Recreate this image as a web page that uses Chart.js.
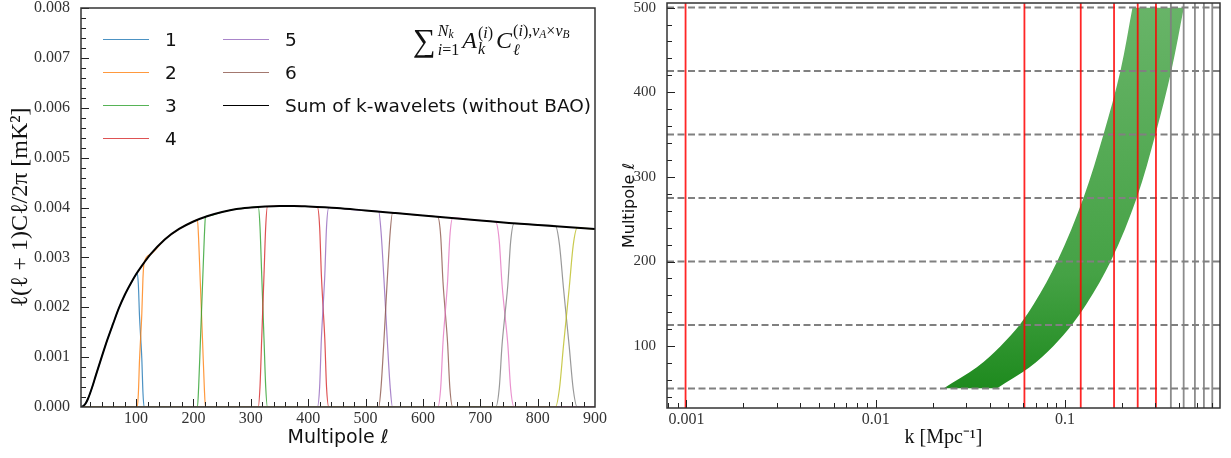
<!DOCTYPE html>
<html>
<head>
<meta charset="utf-8">
<script src="https://cdn.jsdelivr.net/npm/chart.js@4.4.1/dist/chart.umd.min.js"></script>
<style>
  body { margin: 0; background: #fff; }
  #wrap { position: relative; width: 1231px; height: 458px; overflow: hidden; }
  .panel { position: absolute; top: 0; height: 458px; }
  #leftPanel { left: 0; width: 615px; }
  #rightPanel { left: 615px; width: 616px; }
  #legend {
    position: absolute; left: 103px; top: 23px;
    display: grid; grid-auto-flow: column;
    grid-template-rows: repeat(4, 33px); grid-template-columns: 120px auto;
    font: 18.5px "DejaVu Sans", sans-serif; color: #111;
  }
  .item { display: flex; align-items: center; white-space: nowrap; }
  .swatch { width: 46px; height: 0; border-top: 1.6px solid; margin-right: 16px; }
  #mathLabel {
    position: absolute; left: 413px; top: 22px;
    display: flex; align-items: center; white-space: nowrap;
    font: 24px "Liberation Serif", serif; color: #111;
  }
  #mathLabel .big { font-size: 32px; margin-right: 1px; }
  #mathLabel .stk { display: inline-flex; flex-direction: column; font-size: 16px; line-height: 16px; margin: 0 3px 0 1px; }
  #mathLabel sub { font-size: 11.5px; vertical-align: -2px; }
</style>
</head>
<body>
<div id="wrap">
  <div class="panel" id="leftPanel"><canvas id="leftChart"></canvas></div>
  <div class="panel" id="rightPanel"><canvas id="rightChart"></canvas></div>
  <div id="legend"></div>
  <div id="mathLabel">
    <span class="big">∑</span><span class="stk"><span><i>N</i><sub><i>k</i></sub></span><span><i>i</i>=1</span></span>
    <i>A</i><span class="stk"><span>(<i>i</i>)</span><span><i>k</i></span></span>
    <i>C</i><span class="stk"><span>(<i>i</i>),<i>ν</i><sub><i>A</i></sub>×<i>ν</i><sub><i>B</i></sub></span><span><i>ℓ</i></span></span>
  </div>
</div>
<script>
// ---- left panel: k-wavelet decomposition of the angular power spectrum ----
const sumL = [4, 8, 12, 16, 20, 25, 30, 40, 50, 60, 70, 80, 90, 100, 110, 125, 150, 175, 200, 225,
              250, 275, 300, 325, 350, 375, 400, 450, 500, 550, 600, 650, 700, 750, 800, 850, 900];
const sumV = [0, 0.00002, 0.00007, 0.00016, 0.00028, 0.00045, 0.00064, 0.00100, 0.00135, 0.00167,
              0.00198, 0.00224, 0.00246, 0.00266, 0.00283, 0.00306, 0.00336, 0.00357, 0.00372, 0.00383,
              0.00391, 0.00397, 0.00400, 0.00402, 0.00403, 0.00403, 0.00402, 0.00399, 0.00394, 0.00389,
              0.00384, 0.00379, 0.00374, 0.00369, 0.00365, 0.00361, 0.00357];

// crossings between neighbouring wavelets
const edgeL = [
  [102, 104, 106, 108, 110, 112, 114],
  [207, 209, 212, 214, 216, 219, 221],
  [313, 316, 319, 321, 323, 326, 329],
  [416, 420, 423, 426, 429, 432, 436],
  [523, 527, 532, 535, 538, 543, 547],
  [626, 631, 635, 639, 643, 647, 652],
  [727, 733, 738, 743, 748, 753, 759],
  [831, 838, 845, 850, 855, 862, 869]
];
const fallV = [
  [0.00269, 0.00245, 0.00182, 0.00140, 0.00097, 0.00029, 0],
  [0.00375, 0.00338, 0.00249, 0.00189, 0.00129, 0.00038, 0],
  [0.00402, 0.00362, 0.00265, 0.00201, 0.00137, 0.00040, 0],
  [0.00401, 0.00361, 0.00265, 0.00200, 0.00136, 0.00040, 0],
  [0.00392, 0.00352, 0.00258, 0.00195, 0.00132, 0.00039, 0],
  [0.00381, 0.00343, 0.00251, 0.00190, 0.00129, 0.00038, 0],
  [0.00371, 0.00334, 0.00245, 0.00185, 0.00126, 0.00037, 0],
  [0.00363, 0.00326, 0.00239, 0.00180, 0.00122, 0.00036, 0]
];
const riseV = [
  [0, 0.00027, 0.00094, 0.00140, 0.00187, 0.00258, 0.00289],
  [0, 0.00038, 0.00128, 0.00189, 0.00250, 0.00342, 0.00381],
  [0, 0.00040, 0.00137, 0.00201, 0.00265, 0.00362, 0.00402],
  [0, 0.00040, 0.00136, 0.00200, 0.00265, 0.00361, 0.00400],
  [0, 0.00039, 0.00132, 0.00195, 0.00257, 0.00351, 0.00389],
  [0, 0.00038, 0.00129, 0.00190, 0.00251, 0.00342, 0.00379],
  [0, 0.00037, 0.00125, 0.00185, 0.00244, 0.00332, 0.00368],
  [0, 0.00036, 0.00122, 0.00180, 0.00238, 0.00324, 0.00359]
];
const waveletLabels = ['1', '2', '3', '4', '5', '6', '7', '8', '9'];
const waveletColors = ['#1f77b4', '#ff7f0e', '#2ca02c', '#d62728', '#9467bd', '#8c564b', '#e377c2', '#7f7f7f', '#bcbd22'];
const leftXTicks = [100, 200, 300, 400, 500, 600, 700, 800, 900];
const leftYTicks = [0, 0.001, 0.002, 0.003, 0.004, 0.005, 0.006, 0.007, 0.008];

// ---- right panel: k <-> multipole mapping ----
const bandL = [50, 75, 100, 125, 150, 200, 275, 350, 425, 500];
const bandKLow = [0.0228, 0.0342, 0.0456, 0.0575, 0.0685, 0.0908, 0.1250, 0.1595, 0.1960, 0.2270];
const bandKHigh = [0.0436, 0.0650, 0.0866, 0.1085, 0.1300, 0.1740, 0.2390, 0.3000, 0.3640, 0.4240];
const kRed = [0.00099, 0.0610, 0.1210, 0.1814, 0.2419, 0.3020];
const kGrey = [0.3620, 0.4230, 0.4850, 0.5410, 0.5990];
const lDashed = [50, 125, 200, 275, 350, 425, 500];
const rightXTicks = [0.001, 0.01, 0.1];
const rightYTicks = [100, 200, 300, 400, 500];

const kMin = 0.00079, kMax = 0.658, lMin = 27, lMax = 505.4;

const serif = '"Liberation Serif", serif';
const sans = '"DejaVu Sans", sans-serif';

// minor tick positions (drawn inward like the major ones)
const leftXMinor = [];
for (let v = 20; v < 900; v += 20) if (v % 100) leftXMinor.push(v);
const leftYMinor = [];
for (let i = 1; i < 40; i++) if (i % 5) leftYMinor.push(i * 0.0002);
const rightYMinor = [];
for (let v = 40; v <= 500; v += 20) if (v % 100) rightYMinor.push(v);
const rightXMinor = [];
[0.0001, 0.001, 0.01, 0.1].forEach(d => { for (let m = 2; m <= 9; m++) rightXMinor.push(m * d); });

const frameTicks = {
  id: 'frameTicks',
  afterDatasetsDraw(chart, args, opts) {
    const { ctx, chartArea: a } = chart;
    const xs = chart.scales.x, ys = chart.scales.y;
    ctx.save();
    ctx.strokeStyle = '#222';
    ctx.lineWidth = 1;
    ctx.beginPath();
    const tick = (v, len, horiz) => {
      if (horiz) {
        const p = Math.round(xs.getPixelForValue(v)) + 0.5;
        if (p < a.left || p > a.right) return;
        ctx.moveTo(p, a.bottom); ctx.lineTo(p, a.bottom - len);
      } else {
        const p = Math.round(ys.getPixelForValue(v)) + 0.5;
        if (p < a.top || p > a.bottom) return;
        ctx.moveTo(a.left, p); ctx.lineTo(a.left + len, p);
      }
    };
    xs.ticks.forEach(t => tick(t.value, 8, true));
    (opts.xMinor || []).forEach(v => tick(v, 5, true));
    ys.ticks.forEach(t => tick(t.value, 8, false));
    (opts.yMinor || []).forEach(v => tick(v, 5, false));
    ctx.stroke();
    ctx.lineWidth = 1.5;
    ctx.strokeStyle = '#333';
    ctx.strokeRect(a.left, a.top, a.right - a.left, a.bottom - a.top);
    ctx.restore();
  }
};

function waveletData(i) {
  const pts = [];
  const last = edgeL.length;
  const lo = i > 0 ? edgeL[i - 1][edgeL[i - 1].length - 1] : -Infinity;
  const hi = i < last ? edgeL[i][0] : Infinity;
  if (i > 0) {
    pts.push({ x: sumL[0], y: 0 });
    edgeL[i - 1].forEach((l, j) => pts.push({ x: l, y: riseV[i - 1][j] }));
  }
  sumL.forEach((l, j) => { if (l > lo && l < hi) pts.push({ x: l, y: sumV[j] }); });
  if (i < last) {
    edgeL[i].forEach((l, j) => pts.push({ x: l, y: fallV[i][j] }));
    pts.push({ x: sumL[sumL.length - 1], y: 0 });
  }
  return pts;
}

const leftDatasets = [{
  label: 'Sum of k-wavelets (without BAO)',
  data: sumL.map((l, i) => ({ x: l, y: sumV[i] })),
  borderColor: '#000', borderWidth: 2, order: 0
}].concat(waveletLabels.map((lab, i) => ({
  label: lab,
  data: waveletData(i),
  borderColor: waveletColors[i] + 'cc',
  borderWidth: 1.2,
  order: 10 - i
})));

new Chart(document.getElementById('leftChart'), {
  type: 'line',
  data: { datasets: leftDatasets },
  options: {
    responsive: true, maintainAspectRatio: false, animation: false,
    layout: { padding: { top: 8, right: 20, left: 0, bottom: 0 } },
    elements: { point: { radius: 0 }, line: { cubicInterpolationMode: 'monotone' } },
    plugins: {
      legend: { display: false }, tooltip: { enabled: false },
      frameTicks: { xMinor: leftXMinor, yMinor: leftYMinor }
    },
    scales: {
      x: {
        type: 'linear', min: 4, max: 900,
        afterBuildTicks: s => { s.ticks = leftXTicks.map(v => ({ value: v })); },
        afterFit: s => { s.height = 51; s.paddingLeft = 0; s.paddingRight = 0; },
        grid: { display: false }, border: { display: false },
        ticks: { font: { family: serif, size: 16, lineHeight: 1 }, color: '#333', padding: -4, maxRotation: 0, autoSkip: false },
        title: { display: true, text: 'Multipole ℓ', font: { family: sans, size: 19 }, color: '#111', padding: { top: 0, bottom: 9 } }
      },
      y: {
        min: 0, max: 0.008,
        afterBuildTicks: s => { s.ticks = leftYTicks.map(v => ({ value: v })); },
        afterFit: s => { s.width = 81; s.paddingTop = 0; s.paddingBottom = 0; },
        grid: { display: false }, border: { display: false },
        ticks: { font: { family: serif, size: 16, lineHeight: 1 }, color: '#333', padding: 3, callback: v => v.toFixed(3) },
        title: {
          display: true, text: 'ℓ(ℓ + 1)Cℓ/2π [mK²]', color: '#111',
          font: { family: serif, size: 24 }, padding: { top: 6, bottom: 0 }
        }
      }
    }
  },
  plugins: [frameTicks]
});

// html legend, two columns like the original
const legendItems = [1, 2, 3, 4, 5, 6, 0].map(i => leftDatasets[i]);
document.getElementById('legend').innerHTML = legendItems.map(d =>
  '<div class="item"><span class="swatch" style="border-color:' + d.borderColor + '"></span>' + d.label + '</div>'
).join('');

function bandFill(ctx) {
  const chart = ctx.chart;
  if (!chart.chartArea) return 'rgba(70,160,70,0.85)';
  const y = chart.scales.y;
  const g = chart.ctx.createLinearGradient(0, y.getPixelForValue(50), 0, y.getPixelForValue(500));
  g.addColorStop(0, '#1e8a1e');
  g.addColorStop(0.3, '#45a245');
  g.addColorStop(1, '#68b468');
  return g;
}

const rightDatasets = [];
kRed.forEach(k => rightDatasets.push({
  data: [{ x: k, y: lMin }, { x: k, y: lMax }], borderColor: 'rgba(255,0,0,0.85)', borderWidth: 1.8, order: 0
}));
kGrey.forEach(k => rightDatasets.push({
  data: [{ x: k, y: lMin }, { x: k, y: lMax }], borderColor: 'rgba(128,128,128,0.9)', borderWidth: 1.8, order: 0
}));
lDashed.forEach(l => rightDatasets.push({
  data: [{ x: kMin, y: l }, { x: kMax, y: l }], borderColor: '#808080', borderWidth: 2, borderDash: [7, 3.5], order: 1
}));
rightDatasets.push({
  data: bandL.map((l, i) => ({ x: bandKLow[i], y: l })), indexAxis: 'y',
  borderColor: 'rgba(0,0,0,0)', borderWidth: 0, fill: false, cubicInterpolationMode: 'monotone', order: 2
});
rightDatasets.push({
  data: bandL.map((l, i) => ({ x: bandKHigh[i], y: l })), indexAxis: 'y',
  borderColor: 'rgba(0,0,0,0)', borderWidth: 0, fill: '-1', backgroundColor: bandFill,
  cubicInterpolationMode: 'monotone', order: 2
});

new Chart(document.getElementById('rightChart'), {
  type: 'line',
  data: { datasets: rightDatasets },
  options: {
    responsive: true, maintainAspectRatio: false, animation: false,
    layout: { padding: { top: 3, right: 11, left: 0, bottom: 0 } },
    elements: { point: { radius: 0 } },
    plugins: {
      legend: { display: false }, tooltip: { enabled: false },
      frameTicks: { xMinor: rightXMinor, yMinor: rightYMinor }
    },
    scales: {
      x: {
        type: 'logarithmic', min: kMin, max: kMax,
        afterBuildTicks: s => { s.ticks = rightXTicks.map(v => ({ value: v })); },
        afterFit: s => { s.height = 50; s.paddingLeft = 0; s.paddingRight = 0; },
        grid: { display: false }, border: { display: false },
        ticks: { font: { family: serif, size: 16, lineHeight: 1 }, color: '#333', padding: -4, maxRotation: 0, autoSkip: false, callback: v => String(v) },
        title: {
          display: true, text: 'k [Mpc⁻¹]', color: '#111',
          font: { family: serif, size: 20 }, padding: { top: 0, bottom: 8 }
        }
      },
      y: {
        type: 'linear', min: lMin, max: lMax,
        afterBuildTicks: s => { s.ticks = rightYTicks.map(v => ({ value: v })); },
        afterFit: s => { s.width = 52; s.paddingTop = 0; s.paddingBottom = 0; },
        grid: { display: false }, border: { display: false },
        ticks: { font: { family: serif, size: 15, lineHeight: 1 }, color: '#333', padding: 3 },
        title: { display: true, text: 'Multipole ℓ', font: { family: sans, size: 16 }, color: '#111', padding: { top: 5, bottom: 0 } }
      }
    }
  },
  plugins: [frameTicks]
});
</script>
</body>
</html>
